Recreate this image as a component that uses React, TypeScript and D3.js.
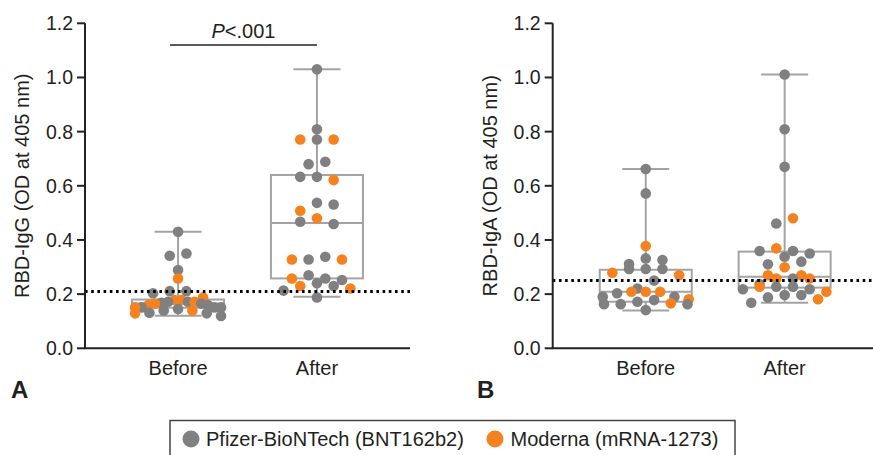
import React from "react";
import * as d3 from "d3";

// ---------- data ----------
const categories = ["Before", "After"];
const yTicks = [0, 0.2, 0.4, 0.6, 0.8, 1.0, 1.2];

// Panel A: RBD-IgG
const igGPfizerBefore = [0.43, 0.35, 0.342, 0.289, 0.203, 0.211, 0.211, 0.172, 0.168, 0.16, 0.165, 0.172, 0.151, 0.151, 0.151, 0.131, 0.119, 0.14, 0.129, 0.145];
const igGModernaBefore = [0.258, 0.178, 0.188, 0.178, 0.172, 0.151, 0.16, 0.129, 0.165, 0.14];
const igGPfizerAfter = [1.03, 0.809, 0.771, 0.689, 0.68, 0.633, 0.633, 0.531, 0.537, 0.459, 0.467, 0.328, 0.338, 0.27, 0.252, 0.258, 0.23, 0.24, 0.213, 0.188];
const igGModernaAfter = [0.771, 0.771, 0.621, 0.508, 0.48, 0.328, 0.328, 0.258, 0.23, 0.221];
// [min, q1, median, q3, max]
const igGBoxBefore = [0.12, 0.15, 0.165, 0.18, 0.43];
const igGBoxAfter = [0.19, 0.258, 0.463, 0.64, 1.03];
const igGCutoff = 0.21;

// Panel B: RBD-IgA
const igAPfizerBefore = [0.662, 0.572, 0.332, 0.326, 0.311, 0.293, 0.293, 0.293, 0.25, 0.221, 0.203, 0.19, 0.19, 0.178, 0.172, 0.163, 0.163, 0.163, 0.141];
const igAModernaBefore = [0.378, 0.279, 0.27, 0.209, 0.209, 0.209, 0.181, 0.166];
const igAPfizerAfter = [1.011, 0.809, 0.67, 0.461, 0.35, 0.359, 0.359, 0.338, 0.32, 0.31, 0.258, 0.218, 0.227, 0.227, 0.218, 0.237, 0.197, 0.188, 0.197, 0.168];
const igAModernaAfter = [0.48, 0.369, 0.299, 0.258, 0.258, 0.27, 0.27, 0.209, 0.227, 0.181];
const igABoxBefore = [0.14, 0.172, 0.209, 0.29, 0.662];
const igABoxAfter = [0.168, 0.224, 0.264, 0.357, 1.011];
const igACutoff = 0.25;

const seriesNames = ["Pfizer-BioNTech (BNT162b2)", "Moderna (mRNA-1273)"];
const pValueLabel = "<.001";

// ---------- styles ----------
const GRAY = "#808080";
const ORANGE = "#f5821f";
const BOX = "#a3a3a3";
const TXT = "#231f20";
const FONT = "'Liberation Sans', Arial, Helvetica, sans-serif";
const R = 5.3;
const ROW_H = 8;
const STEP = 16.7;
const HALF = 43;

type Pt = { v: number; c: string };

// GraphPad-like scatter: bin points into horizontal rows, spread each row
function swarm(pts: Pt[], y: (v: number) => number) {
  const sorted = [...pts].sort((a, b) => b.v - a.v);
  const rows: Pt[][] = [];
  let cur: Pt[] = [];
  let top = 0;
  for (const p of sorted) {
    if (cur.length && y(p.v) - top > ROW_H) {
      rows.push(cur);
      cur = [];
    }
    if (!cur.length) top = y(p.v);
    cur.push(p);
  }
  if (cur.length) rows.push(cur);
  const out: { x: number; y: number; c: string }[] = [];
  rows.forEach((row, ri) => {
    const n = row.length;
    const s = n > 1 ? Math.min(STEP, (2 * HALF) / (n - 1)) : 0;
    const slots = d3.range(n).map((i) => (i - (n - 1) / 2) * s);
    const order = [...slots].sort((a, b) => Math.abs(a) - Math.abs(b) || (ri % 2 ? b - a : a - b));
    row.forEach((p, i) => out.push({ x: order[i], y: y(p.v), c: p.c }));
  });
  return out;
}

function Panel(props: {
  x0: number;
  x1: number;
  groups: { pf: number[]; mo: number[]; box: number[] }[];
  cutoff: number;
  ylabel: string;
  letter: string;
  letterX: number;
  pval?: boolean;
}) {
  const { x0, x1, groups, cutoff, ylabel, letter, letterX, pval } = props;
  const y = d3.scaleLinear().domain([0, 1.2]).range([348.3, 23.3]);
  const x = d3.scalePoint<string>().domain(categories).range([x0, x1]).padding(0.67);
  const boxW = 92;
  const capW = 47;
  return (
    <g>
      {groups.map((g, i) => {
        const cx = x(categories[i])!;
        const [mn, q1, md, q3, mx] = g.box;
        return (
          <g key={"b" + i} stroke={BOX} strokeWidth={2} fill="none">
            <rect x={cx - boxW / 2} y={y(q3)} width={boxW} height={y(q1) - y(q3)} />
            <line x1={cx - boxW / 2} x2={cx + boxW / 2} y1={y(md)} y2={y(md)} />
            <line x1={cx} x2={cx} y1={y(q3)} y2={y(mx)} />
            <line x1={cx} x2={cx} y1={y(q1)} y2={y(mn)} />
            <line x1={cx - capW / 2} x2={cx + capW / 2} y1={y(mx)} y2={y(mx)} />
            <line x1={cx - capW / 2} x2={cx + capW / 2} y1={y(mn)} y2={y(mn)} />
          </g>
        );
      })}
      {groups.map((g, i) => {
        const cx = x(categories[i])!;
        const pts: Pt[] = [
          ...g.pf.map((v) => ({ v, c: GRAY })),
          ...g.mo.map((v) => ({ v, c: ORANGE })),
        ];
        return (
          <g key={"p" + i}>
            {swarm(pts, y).map((p, j) => (
              <circle key={j} cx={cx + p.x} cy={p.y} r={R} fill={p.c} />
            ))}
          </g>
        );
      })}
      <line x1={x0} x2={x1} y1={y(cutoff)} y2={y(cutoff)} stroke="#000" strokeWidth={3} strokeDasharray="2.6 3.6" />
      <line x1={x0} x2={x0} y1={y(1.2)} y2={y(0)} stroke="#222" strokeWidth={2} />
      <line x1={x0 - 1} x2={x1} y1={y(0)} y2={y(0)} stroke="#222" strokeWidth={2} />
      {yTicks.map((t) => (
        <g key={t}>
          <line x1={x0 - 8} x2={x0} y1={y(t)} y2={y(t)} stroke="#222" strokeWidth={2} />
          <text x={x0 - 12} y={y(t)} dy="0.36em" textAnchor="end" fontSize={19.5} fill={TXT} fontFamily={FONT}>
            {t.toFixed(1)}
          </text>
        </g>
      ))}
      {categories.map((c) => (
        <text key={c} x={x(c)!} y={375} textAnchor="middle" fontSize={20} fill={TXT} fontFamily={FONT}>
          {c}
        </text>
      ))}
      <text
        transform={`translate(${x0 - 63},${(y(0) + y(1.2)) / 2}) rotate(-90)`}
        textAnchor="middle"
        dy="0.36em"
        fontSize={20}
        fill={TXT}
        fontFamily={FONT}
      >
        {ylabel}
      </text>
      <text x={letterX} y={398} fontSize={24} fontWeight="bold" fill={TXT} fontFamily={FONT}>
        {letter}
      </text>
      {pval && (
        <g>
          <line x1={x(categories[0])! - 8} x2={x(categories[1])!} y1={45} y2={45} stroke="#222" strokeWidth={1.5} />
          <text x={(x(categories[0])! - 8 + x(categories[1])!) / 2} y={38} textAnchor="middle" fontSize={20} fill={TXT} fontFamily={FONT}>
            <tspan fontStyle="italic">P</tspan>
            {pValueLabel}
          </text>
        </g>
      )}
    </g>
  );
}

export default function App() {
  return (
    <svg width={873} height={455} style={{ position: "absolute", left: 0, top: 0, background: "#fff" }}>
      <rect width={873} height={455} fill="#fff" />
      <Panel
        x0={85}
        x1={410}
        groups={[
          { pf: igGPfizerBefore, mo: igGModernaBefore, box: igGBoxBefore },
          { pf: igGPfizerAfter, mo: igGModernaAfter, box: igGBoxAfter },
        ]}
        cutoff={igGCutoff}
        ylabel="RBD-IgG (OD at 405 nm)"
        letter="A"
        letterX={11}
        pval
      />
      <Panel
        x0={552.7}
        x1={877.7}
        groups={[
          { pf: igAPfizerBefore, mo: igAModernaBefore, box: igABoxBefore },
          { pf: igAPfizerAfter, mo: igAModernaAfter, box: igABoxAfter },
        ]}
        cutoff={igACutoff}
        ylabel="RBD-IgA (OD at 405 nm)"
        letter="B"
        letterX={477}
      />
      <rect x={170} y={420.5} width={565} height={45} fill="none" stroke="#444" strokeWidth={1.5} />
      <circle cx={191} cy={439} r={8.5} fill={GRAY} />
      <text x={206} y={439} dy="0.36em" fontSize={20} fill={TXT} fontFamily={FONT}>
        {seriesNames[0]}
      </text>
      <circle cx={495} cy={439} r={8.5} fill={ORANGE} />
      <text x={510.5} y={439} dy="0.36em" fontSize={20} fill={TXT} fontFamily={FONT}>
        {seriesNames[1]}
      </text>
    </svg>
  );
}
